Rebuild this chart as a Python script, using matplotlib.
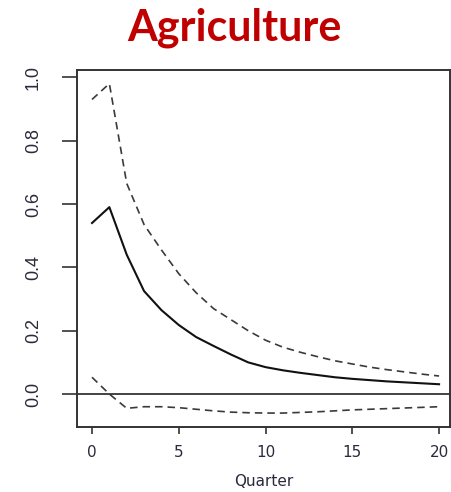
import matplotlib.pyplot as plt
import numpy as np

# impulse response of agriculture, point estimate with upper/lower bands
quarters = np.arange(0, 21)
response = [0.54, 0.59, 0.44, 0.325, 0.265, 0.218, 0.18, 0.152, 0.125, 0.10, 0.085,
            0.075, 0.067, 0.06, 0.053, 0.048, 0.044, 0.04, 0.037, 0.034, 0.031]
upper = [0.93, 0.98, 0.665, 0.535, 0.455, 0.38, 0.32, 0.27, 0.235, 0.20, 0.17,
         0.148, 0.132, 0.118, 0.105, 0.095, 0.085, 0.077, 0.07, 0.063, 0.057]
lower = [0.053, 0.0, -0.045, -0.04, -0.04, -0.043, -0.048, -0.053, -0.057, -0.059, -0.06,
         -0.06, -0.058, -0.056, -0.053, -0.05, -0.048, -0.046, -0.044, -0.042, -0.04]

xticks = [0, 5, 10, 15, 20]
yticks = [0.0, 0.2, 0.4, 0.6, 0.8, 1.0]

W, H = 451, 492
fig = plt.figure(figsize=(W / 100, H / 100), dpi=100)

# -----------------------------
# title
# -----------------------------
fig.text(234 / W, 1 - 40 / H, "Agriculture", ha="center", va="baseline",
         fontsize=31, fontweight="bold", color="#C00000",
         family=["Lato", "DejaVu Sans"])

# -----------------------------
# response panel
# -----------------------------
ax = fig.add_axes([77 / W, 1 - 427 / H, 373 / W, 357 / H])

dash = (0, (4.5, 3.0))
ax.plot(quarters, upper, color="#3a3a3a", lw=1.2, linestyle=dash)
ax.plot(quarters, response, color="#111111", lw=1.5)
ax.plot(quarters, lower, color="#3a3a3a", lw=1.2, linestyle=dash)
ax.axhline(0, color="#222222", lw=1.2)

ax.set_xlim(-0.865, 20.63)
ax.set_ylim(-0.104, 1.023)

ax.set_xticks(xticks)
ax.set_xticklabels([str(t) for t in xticks], fontsize=11, color="#2a2a3c",
                   family=["DejaVu Sans"])
ax.set_yticks(yticks)
ax.set_yticklabels([f"{t:.1f}" for t in yticks], fontsize=13, color="#2a2a3c",
                   rotation=90, va="center",
                   family=["Liberation Sans Narrow", "Liberation Sans"])

ax.tick_params(axis="x", length=5, width=1.1, pad=8, color="#222222")
ax.tick_params(axis="y", length=10.8, width=1.1, pad=14.4, color="#222222")

for s in ax.spines.values():
    s.set_linewidth(1.4)
    s.set_color("#333333")

ax.set_xlabel("Quarter", fontsize=11, color="#2a2a3c", labelpad=10,
              family=["DejaVu Sans"])

plt.savefig("out.png", dpi=100)
